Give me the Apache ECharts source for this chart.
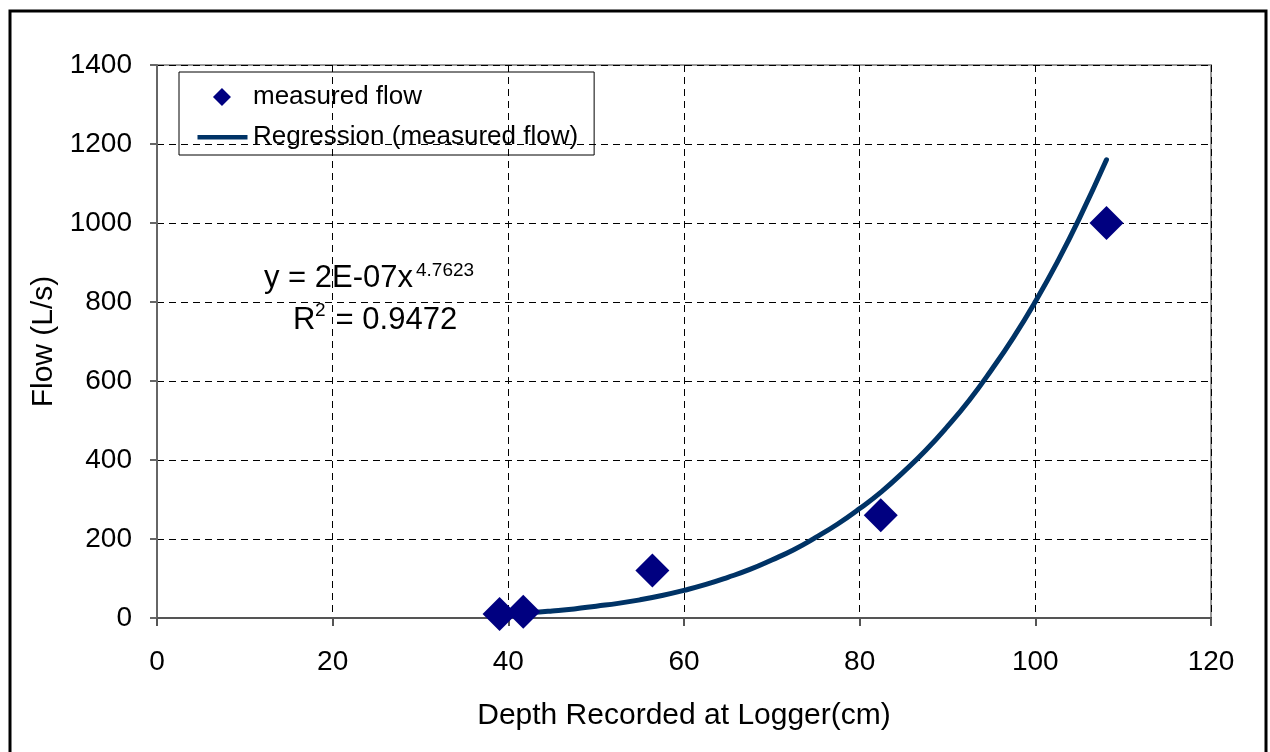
<!DOCTYPE html>
<html>
<head>
<meta charset="utf-8">
<script src="https://cdn.jsdelivr.net/npm/echarts@6/dist/echarts.min.js"></script>
<style>
  html, body { margin: 0; padding: 0; background: #fff; }
  #chart { width: 1270px; height: 752px; }
</style>
</head>
<body>
<div id="chart"></div>
<script>
// measured points (depth cm, flow L/s)
var depth = [39.0, 41.7, 56.4, 82.4, 108.1]
var flow = [10, 16, 120, 260, 1000]

// regression curve
var fitDepth = [38.9, 42.5, 45, 47.5, 50, 52.5, 55, 57.5, 60, 62.5, 65, 67.5, 70, 72.5, 75,
  77.5, 80, 82.5, 85, 87.5, 90, 92.5, 95, 97.5, 100, 102.5, 105, 108.1]
var fitFlow = [10, 14, 18, 23, 30, 37, 46, 57, 70, 85, 103, 123, 147, 173, 204,
  238, 277, 320, 370, 424, 485, 552, 628, 710, 801, 901, 1011, 1160]

var xTicks = [0, 120, 20]
var yTicks = [0, 1400, 200]

var font = 'Liberation Sans, Arial, sans-serif'

var chart = echarts.init(document.getElementById('chart'))

var gridLine = { show: true, lineStyle: { color: '#000', type: [7, 5], width: 1 } }

// legend icons drawn in a 52x18 box
var diamondIcon = 'path://M0,9L0.01,9M52,9L52.01,9M26,0L35,9L26,18L17,9Z'
var lineIcon = 'path://M0,0L0.01,0M0,18L0.01,18M1,7L51,7L51,11.5L1,11.5Z'

chart.setOption({
  backgroundColor: '#fff',
  animation: false,
  textStyle: { fontFamily: font },
  grid: {
    left: 157, top: 65, right: 59, bottom: 134,
    show: true, borderColor: '#999', borderWidth: 2, backgroundColor: 'transparent'
  },
  legend: {
    orient: 'vertical',
    left: 179, top: 72,
    padding: [12, 16, 5, 17],
    itemWidth: 52, itemHeight: 18, itemGap: 14, itemTextGap: 5,
    borderColor: '#000', borderWidth: 1,
    textStyle: { fontSize: 26, color: '#000', fontFamily: font },
    data: [
      { name: 'measured flow', icon: diamondIcon },
      { name: 'Regression (measured flow)', icon: lineIcon, itemStyle: { borderWidth: 0 } }
    ]
  },
  xAxis: {
    type: 'value',
    min: xTicks[0], max: xTicks[1], interval: xTicks[2],
    name: 'Depth Recorded at Logger(cm)',
    nameLocation: 'middle', nameGap: 83,
    nameTextStyle: { fontSize: 30, color: '#000', fontFamily: font },
    axisLine: { show: true, lineStyle: { color: '#555', width: 2 } },
    axisTick: { show: true, length: 8, lineStyle: { color: '#555', width: 2 } },
    axisLabel: { fontSize: 28, color: '#000', margin: 30, fontFamily: font },
    splitLine: gridLine
  },
  yAxis: {
    type: 'value',
    min: yTicks[0], max: yTicks[1], interval: yTicks[2],
    name: 'Flow (L/s)',
    nameLocation: 'middle', nameGap: 97, nameRotate: 90,
    nameTextStyle: { fontSize: 30, color: '#000', fontFamily: font },
    axisLine: { show: true, lineStyle: { color: '#666', width: 2 } },
    axisTick: { show: true, length: 7, lineStyle: { color: '#666', width: 2 } },
    axisLabel: {
      fontSize: 28, color: '#000', margin: 25, fontFamily: font,
      formatter: function (v) { return String(v) }
    },
    splitLine: gridLine
  },
  series: [
    {
      name: 'Regression (measured flow)',
      type: 'line',
      smooth: true,
      symbol: 'none',
      z: 2,
      lineStyle: { color: '#003366', width: 5, cap: 'round' },
      itemStyle: { color: '#003366' },
      data: fitDepth.map(function (d, i) { return [d, fitFlow[i]] })
    },
    {
      name: 'measured flow',
      type: 'scatter',
      symbol: 'diamond',
      symbolSize: 34,
      z: 3,
      itemStyle: { color: '#000080', opacity: 1 },
      data: depth.map(function (d, i) { return [d, flow[i]] })
    }
  ],
  graphic: [
    {
      type: 'rect', z: 100, silent: true,
      shape: { x: 10, y: 11, width: 1256, height: 760 },
      style: { fill: null, stroke: '#000', lineWidth: 3 }
    },
    // trendline equation
    { type: 'text', z: 50, x: 264, y: 294,
      style: { text: 'y = 2E-07x', font: '31px ' + font, fill: '#000', verticalAlign: 'bottom' } },
    { type: 'text', z: 50, x: 416, y: 280,
      style: { text: '4.7623', font: '19px ' + font, fill: '#000', verticalAlign: 'bottom' } },
    { type: 'text', z: 50, x: 293, y: 336,
      style: { text: 'R', font: '31px ' + font, fill: '#000', verticalAlign: 'bottom' } },
    { type: 'text', z: 50, x: 315, y: 320,
      style: { text: '2', font: '19px ' + font, fill: '#000', verticalAlign: 'bottom' } },
    { type: 'text', z: 50, x: 327, y: 336,
      style: { text: ' = 0.9472', font: '31px ' + font, fill: '#000', verticalAlign: 'bottom' } }
  ]
})
</script>
</body>
</html>
